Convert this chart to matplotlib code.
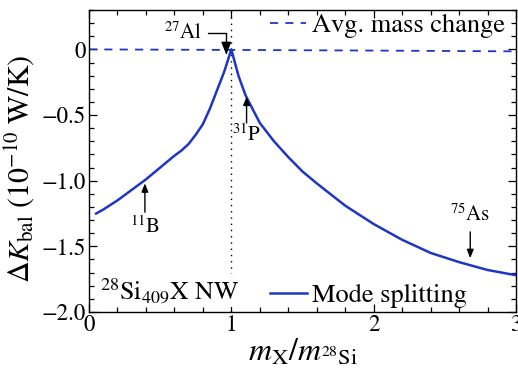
import matplotlib
matplotlib.use("Agg")
import matplotlib.pyplot as plt
from matplotlib.ticker import MultipleLocator

plt.rcParams['font.family'] = ['STIXGeneral', 'DejaVu Serif']
plt.rcParams['mathtext.fontset'] = 'stix'

# Mode splitting curve
mass_ratio = [0.05, 0.1, 0.2, 0.3, 0.4, 0.5, 0.6, 0.65, 0.7, 0.75, 0.8, 0.85, 0.9, 0.95, 1.0,
              1.05, 1.1, 1.2, 1.3, 1.4, 1.5, 1.6, 1.8, 2.0, 2.2, 2.4, 2.6, 2.8, 3.0]
dk_mode = [-1.25, -1.22, -1.15, -1.07, -0.99, -0.90, -0.81, -0.77, -0.72, -0.65, -0.57, -0.45,
           -0.31, -0.17, 0.0, -0.20, -0.35, -0.56, -0.70, -0.82, -0.93, -1.02, -1.19, -1.33,
           -1.45, -1.55, -1.62, -1.68, -1.72]
# Average mass change
avg_x = [0.0, 1.0, 2.0, 3.0]
avg_y = [0.0, -0.004, -0.009, -0.015]

# Isotope markers
iso_labels = [r"$^{11}$B", r"$^{31}$P", r"$^{75}$As"]
iso_x = [11/28, 31/28, 75/28]
iso_tip = [-1.02, -0.36, -1.59]
iso_base = [-1.24, -0.56, -1.39]
iso_text = [-1.35, -0.655, -1.26]

blue = '#1f36c4'

fig = plt.figure(figsize=(5.18, 3.72), dpi=100)
ax = fig.add_axes([0.1718, 0.1613, 0.8243, 0.8118])

ax.axvline(1.0, color='black', ls=(0, (1, 3.5)), lw=1.0, zorder=1)
l1, = ax.plot(avg_x, avg_y, color=blue, lw=1.3, ls=(0, (4.5, 4)), zorder=2)
l2, = ax.plot(mass_ratio, dk_mode, color=blue, lw=1.8, zorder=3)

ax.set_xlim(0, 3)
ax.set_ylim(-2.0, 0.3)
ax.xaxis.set_major_locator(MultipleLocator(1))
ax.xaxis.set_minor_locator(MultipleLocator(0.2))
ax.yaxis.set_major_locator(MultipleLocator(0.5))
ax.yaxis.set_minor_locator(MultipleLocator(0.1))
ax.set_yticks([0, -0.5, -1.0, -1.5, -2.0])
ax.set_yticklabels(['0', '\u22120.5', '\u22121.0', '\u22121.5', '\u22122.0'])
ax.tick_params(which='both', direction='in', top=True, right=True, labelsize=16.5, width=0.9)
ax.tick_params(which='major', length=6, pad=2)
ax.tick_params(which='minor', length=3.5)
for s in ax.spines.values():
    s.set_linewidth(1.0)

ax.set_xlabel(r"$m_{\rm X}/m_{^{28}{\rm Si}}$", fontsize=23, labelpad=1)
ax.set_ylabel(r"$\Delta K_{\rm bal}\ (10^{-10}\ {\rm W/K})$", fontsize=21.5)
ax.yaxis.set_label_coords(-0.122, 0.475)

# Isotope arrows
for lab, xv, tip, base, ty in zip(iso_labels, iso_x, iso_tip, iso_base, iso_text):
    ax.annotate('', xy=(xv, tip), xytext=(xv, base),
                arrowprops=dict(arrowstyle='-|>,head_length=0.5,head_width=0.2', color='black',
                                lw=1.0, shrinkA=0, shrinkB=0))
    ax.text(xv, ty, lab, ha='center', va='center', fontsize=15)

ax.annotate(r"$^{27}$Al", xy=(27/28, -0.04), xytext=(0.66, 0.125), ha='center', va='center',
            fontsize=15,
            arrowprops=dict(arrowstyle='-|>,head_length=0.5,head_width=0.2', color='black', lw=1.0,
                            connectionstyle='angle,angleA=0,angleB=90,rad=0',
                            shrinkA=2, shrinkB=0))

ax.text(0.075, -1.835, r"$^{28}$Si$_{409}$X NW", fontsize=18.5, ha='left', va='center',
        bbox=dict(facecolor='white', edgecolor='none', pad=1.5), zorder=4)

leg1 = ax.legend([l1], ['Avg. mass change'], loc='upper right', bbox_to_anchor=(0.983, 1.0),
                 frameon=False, fontsize=19,
                 handlelength=1.4, handletextpad=0.2, borderaxespad=0.05, borderpad=0.1)
ax.add_artist(leg1)
ax.legend([l2], ['Mode splitting'], loc='lower right', bbox_to_anchor=(0.895, 0.0), frameon=False,
          fontsize=19, handlelength=1.4, handletextpad=0.2, borderaxespad=0.05, borderpad=0.1)

fig.savefig('out.png', dpi=100)
